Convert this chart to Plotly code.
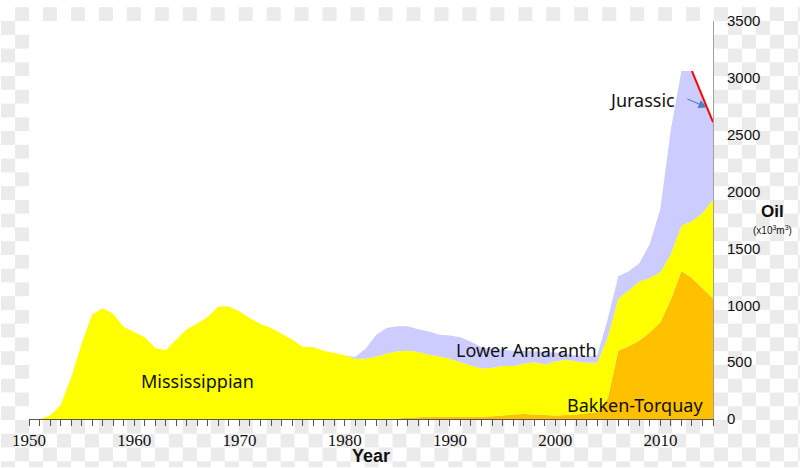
import base64, struct, zlib
import plotly.graph_objects as go

# ---------------- data ----------------
years = list(range(1950, 2016))

bakken_torquay = [0] * 35 + [
    5, 10, 15, 20, 20, 20, 20, 20, 20, 25, 30, 40, 45, 40, 35, 30, 35, 40, 50, 60,
    180, 600, 640, 690, 760, 850, 1050, 1300, 1240, 1150, 1060]

mississippian = [
    0, 0, 30, 120, 360, 660, 920, 975, 925, 810, 765, 720, 625, 605, 700, 790, 840,
    900, 990, 990, 945, 885, 835, 800, 750, 700, 635, 630, 600, 580, 560, 530, 530,
    550, 575, 590, 590, 575, 545, 530, 510, 480, 450, 425, 425, 435, 425, 440, 460,
    445, 475, 485, 465, 445, 435, 540, 460, 490, 520, 480, 440, 400, 400, 500, 660, 870]

lower_amaranth = [0] * 31 + [
    15, 90, 190, 225, 220, 215, 200, 205, 190, 205, 220, 210, 185, 170, 145, 135,
    115, 95, 110, 80, 55, 55, 55, 65, 160, 195, 170, 160, 300, 560, 1100, 1360,
    1320, 1020, 680]

jurassic_years = [2013, 2014, 2015]

y_ticks = [0, 500, 1000, 1500, 2000, 2500, 3000, 3500]
x_ticks = [1950, 1960, 1970, 1980, 1990, 2000, 2010]

# ---------------- background checker image ----------------
W, H, CELL = 800, 468, 14
light, grey = bytes([255, 255, 255]), bytes([235, 235, 235])
rowA = b"".join((grey if (i // CELL) % 2 else light) for i in range(W))
rowB = b"".join((light if (i // CELL) % 2 else grey) for i in range(W))
raw = b"".join(b"\x00" + (rowA if (j // CELL) % 2 == 0 else rowB) for j in range(H))


def chunk(tag, data):
    c = struct.pack(">I", len(data)) + tag + data
    return c + struct.pack(">I", zlib.crc32(tag + data) & 0xFFFFFFFF)


png = (b"\x89PNG\r\n\x1a\n" + chunk(b"IHDR", struct.pack(">IIBBBBB", W, H, 8, 2, 0, 0, 0))
       + chunk(b"IDAT", zlib.compress(raw, 9)) + chunk(b"IEND", b""))
bg_src = "data:image/png;base64," + base64.b64encode(png).decode()

# ---------------- figure ----------------
L, R, T, B = 28, 87, 14, 49
PW, PH = W - L - R, H - T - B

fig = go.Figure()
fig.add_trace(go.Scatter(x=years, y=bakken_torquay, stackgroup="s", mode="none",
                         fillcolor="#FFC000", name="Bakken-Torquay", hoverinfo="skip"))
fig.add_trace(go.Scatter(x=years, y=mississippian, stackgroup="s", mode="none",
                         fillcolor="#FFFF00", name="Mississippian", hoverinfo="skip"))
fig.add_trace(go.Scatter(x=years, y=lower_amaranth, stackgroup="s", mode="none",
                         fillcolor="#CCCCFF", name="Lower Amaranth", hoverinfo="skip"))

totals = {yr: b + m + a for yr, b, m, a in zip(years, bakken_torquay, mississippian, lower_amaranth)}
fig.add_trace(go.Scatter(x=jurassic_years, y=[totals[y] for y in jurassic_years], mode="lines",
                         line=dict(color="#FF0000", width=2), name="Jurassic", hoverinfo="skip"))

txt = dict(family="Noto Sans", size=18, color="#111111")
sans = "Liberation Sans"
ann = [
    dict(x=1966.0, y=337, text="Mississippian", showarrow=False, font=txt),
    dict(x=1997.25, y=605, text="Lower Amaranth", showarrow=False, font=txt),
    dict(x=2007.6, y=121, text="Bakken-Torquay", showarrow=False, font=txt),
    dict(x=2008.25, y=2809, text="Jurassic", showarrow=False, font=txt),
    dict(x=2014.42, y=2740, text="", showarrow=True, ax=-21, ay=-9, arrowhead=2,
         arrowsize=1.4, arrowwidth=1.2, arrowcolor="#4F81BD"),
    dict(xref="paper", yref="paper", x=(773 - L) / PW, y=(H - B - 208) / PH, text="<b>Oil</b>",
         xanchor="center", yanchor="middle", showarrow=False,
         font=dict(family=sans, size=17, color="#111111")),
    dict(xref="paper", yref="paper", x=(773 - L) / PW, y=(H - B - 227) / PH,
         text="(x10<sup>3</sup>m<sup>3</sup>)", xanchor="center", yanchor="middle", showarrow=False,
         font=dict(family=sans, size=10, color="#111111")),
    dict(xref="paper", yref="paper", x=(370 - L) / PW, y=(H - B - 457) / PH, text="<b>Year</b>",
         xanchor="center", yanchor="middle", showarrow=False,
         font=dict(family=sans, size=18, color="#111111")),
]

fig.update_layout(
    width=W, height=H, margin=dict(l=L, r=R, t=T, b=B),
    paper_bgcolor="#FFFFFF", plot_bgcolor="rgba(0,0,0,0)",
    showlegend=False, annotations=ann,
    images=[dict(source=bg_src, xref="paper", yref="paper", x=-L / PW, y=1 + T / PH,
                 sizex=W / PW, sizey=H / PH, xanchor="left", yanchor="top",
                 sizing="stretch", layer="below")],
    shapes=[dict(type="rect", xref="paper", yref="paper", x0=0, x1=1, y0=0, y1=1,
                 fillcolor="#FFFFFF", line=dict(width=0), layer="below")],
    xaxis=dict(range=[1950, 2015], tickvals=x_ticks, ticks="outside", ticklen=6,
               tickcolor="#555555", showgrid=False, zeroline=False, showline=True,
               linecolor="#555555", linewidth=1,
               tickfont=dict(family="Liberation Serif", size=17, color="#111111"),
               minor=dict(dtick=1, ticks="outside", ticklen=6, tickcolor="#555555", showgrid=False)),
    yaxis=dict(range=[0, 3500], side="right", tickvals=y_ticks, ticks="", showgrid=False,
               zeroline=False, showline=True, linecolor="#A0A0A0", linewidth=1,
               ticklabelstandoff=10,
               tickfont=dict(family=sans, size=15, color="#111111")),
)

fig.write_html("out.html")
